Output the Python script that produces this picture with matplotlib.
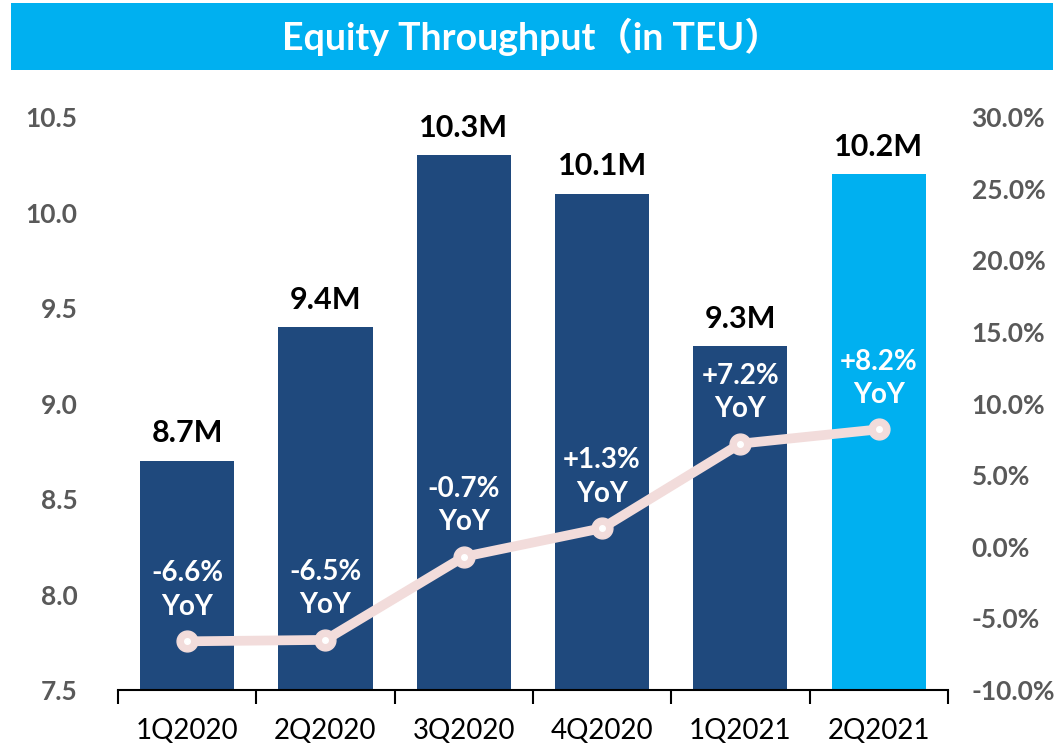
import matplotlib.pyplot as plt
from matplotlib.patches import Rectangle

quarters = ['1Q2020', '2Q2020', '3Q2020', '4Q2020', '1Q2021', '2Q2021']
teu = [8.7, 9.4, 10.3, 10.1, 9.3, 10.2]
teu_labels = ['8.7M', '9.4M', '10.3M', '10.1M', '9.3M', '10.2M']
yoy = [-6.6, -6.5, -0.7, 1.3, 7.2, 8.2]
yoy_labels = ['-6.6%', '-6.5%', '-0.7%', '+1.3%', '+7.2%', '+8.2%']

plt.rcParams['font.family'] = ['Lato', 'DejaVu Sans']

dark = '#1F497D'
light = '#00B0F0'
pink = '#F2DCDB'
grey = '#595959'

fig = plt.figure(figsize=(10.64, 7.45), dpi=100)
fig.patches.append(Rectangle((0.0103, 0.906), 0.979, 0.09, transform=fig.transFigure,
                             facecolor=light, edgecolor='none'))
fig.text(0.5, 0.951, 'Equity Throughput\uff08in TEU\uff09', color='white', fontsize=27,
         fontweight='bold', ha='center', va='center',
         family=['Lato', 'Noto Sans CJK SC'])

ax = fig.add_axes([0.1109, 0.0738, 0.78, 0.769])
x = list(range(len(quarters)))
colors = [dark] * 5 + [light]
ax.bar(x, teu, width=0.68, color=colors, zorder=1)
ax.set_ylim(7.5, 10.5)
ax.set_xlim(-0.5, 5.5)
ax.set_yticks([7.5, 8.0, 8.5, 9.0, 9.5, 10.0, 10.5])
ax.set_yticklabels(['%.1f' % v for v in [7.5, 8.0, 8.5, 9.0, 9.5, 10.0, 10.5]],
                   fontsize=19, fontweight='bold', color=grey)
ax.tick_params(axis='y', length=0, pad=29)
ax.set_xticks(x)
ax.set_xticklabels(quarters, fontsize=20, color='black')
ax.set_xticks([i - 0.5 for i in range(len(quarters) + 1)], minor=True)
ax.tick_params(axis='x', which='major', length=0, pad=20)
ax.tick_params(axis='x', which='minor', length=10, width=1.5, color='black')
for s in ['left', 'right', 'top']:
    ax.spines[s].set_visible(False)
ax.spines['bottom'].set_linewidth(1.5)

for i, v in enumerate(teu):
    ax.text(i, v + 0.07, teu_labels[i], ha='center', va='bottom', fontsize=22,
            fontweight='bold', color='black')

ax2 = ax.twinx()
ax2.set_ylim(-10, 30)
ax2.set_yticks(range(-10, 31, 5))
ax2.set_yticklabels(['%.1f%%' % v for v in range(-10, 31, 5)], fontsize=19,
                    fontweight='bold', color=grey)
ax2.tick_params(axis='y', length=0, pad=17)
for s in ['left', 'right', 'top', 'bottom']:
    ax2.spines[s].set_visible(False)
ax2.plot(x, yoy, color=pink, linewidth=7, marker='o', markersize=15,
         markerfacecolor=pink, markeredgecolor=pink, zorder=3)
ax2.plot(x, yoy, linestyle='none', marker='o', markersize=4,
         color='white', zorder=4)
for i, v in enumerate(yoy):
    ax2.text(i, v + 1.5, yoy_labels[i] + '\nYoY', ha='center', va='bottom',
             fontsize=20, fontweight='bold', color='white', linespacing=1.35)

fig.savefig('out.png', dpi=100)
